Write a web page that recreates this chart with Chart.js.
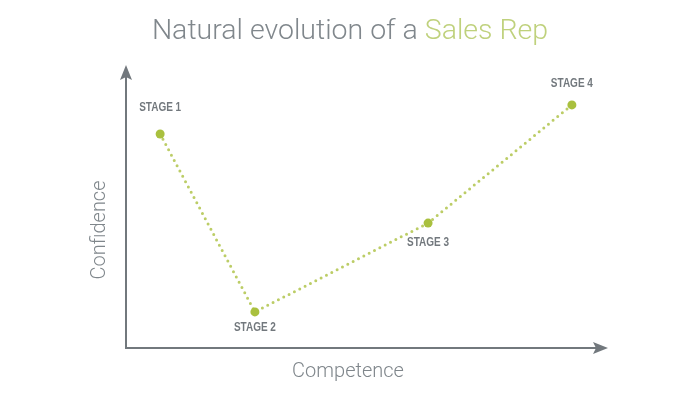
<!DOCTYPE html>
<html lang="en">
<head>
  <meta charset="UTF-8" />
  <title>Natural evolution of a Sales Rep</title>
  <script src="https://cdn.jsdelivr.net/npm/chart.js"></script>
  <style>
    html, body { margin: 0; padding: 0; background: #fff; }
    #wrap { position: relative; width: 700px; height: 394px; }
    #title {
      position: absolute; left: 0; top: 13px; width: 700px; text-align: center;
      font-family: Roboto, "Liberation Sans", sans-serif; font-weight: 300;
      font-size: 28.5px; color: #80878c; white-space: nowrap;
    }
    #title span { color: #bfd17c; }
  </style>
</head>
<body>
<div id="wrap">
  <div id="title">Natural evolution of a <span>Sales Rep</span></div>
  <canvas id="evoChart" width="700" height="394"></canvas>
</div>

<script>
// stages along the curve
const stages = ['STAGE 1', 'STAGE 2', 'STAGE 3', 'STAGE 4'];
const competence = [7.1, 26.8, 62.8, 92.7];
const confidence = [75.9, 12.8, 44.3, 86.2];

// vertical offset of each stage label from its point (px)
const labelOffset = [-26, 16, 19, -21];

const axisColor = '#72787d';
const textColor = '#7f868b';

const axesPlugin = {
  id: 'axesPlugin',
  afterDraw(chart) {
    const ctx = chart.ctx;
    const a = chart.chartArea;
    ctx.save();
    ctx.strokeStyle = axisColor;
    ctx.fillStyle = axisColor;
    ctx.lineWidth = 2;
    // axis lines
    ctx.beginPath();
    ctx.moveTo(a.left, a.top + 10);
    ctx.lineTo(a.left, a.bottom);
    ctx.lineTo(a.right - 10, a.bottom);
    ctx.stroke();
    // arrow heads
    ctx.beginPath();
    ctx.moveTo(a.left, a.top - 1);
    ctx.lineTo(a.left + 6, a.top + 14);
    ctx.lineTo(a.left, a.top + 11);
    ctx.lineTo(a.left - 6, a.top + 14);
    ctx.closePath();
    ctx.fill();
    ctx.beginPath();
    ctx.moveTo(a.right + 1, a.bottom);
    ctx.lineTo(a.right - 14, a.bottom - 6);
    ctx.lineTo(a.right - 11, a.bottom);
    ctx.lineTo(a.right - 14, a.bottom + 6);
    ctx.closePath();
    ctx.fill();

    // axis titles
    ctx.fillStyle = textColor;
    ctx.font = '300 20px Roboto, "Liberation Sans", sans-serif';
    ctx.textAlign = 'center';
    ctx.textBaseline = 'middle';
    ctx.fillText('Competence', 348, 372);
    ctx.save();
    ctx.translate(100, 230);
    ctx.rotate(-Math.PI / 2);
    ctx.fillText('Confidence', 0, 0);
    ctx.restore();

    // stage labels, squeezed to look condensed
    ctx.fillStyle = axisColor;
    ctx.font = 'bold 12.5px "Liberation Sans", Arial, sans-serif';
    const pts = chart.getDatasetMeta(0).data;
    pts.forEach((p, i) => {
      ctx.save();
      ctx.translate(p.x, p.y + labelOffset[i]);
      ctx.scale(0.8, 1);
      ctx.fillText(stages[i], 0, 0);
      ctx.restore();
    });
    ctx.restore();
  }
};

const chart = new Chart(document.getElementById('evoChart'), {
  type: 'line',
  data: {
    datasets: [{
      data: competence.map((c, i) => ({ x: c, y: confidence[i] })),
      borderColor: '#bccd66',
      borderWidth: 3,
      borderDash: [0, 6],
      borderCapStyle: 'round',
      tension: 0,
      pointRadius: 4.5,
      pointBackgroundColor: '#a9c03e',
      pointBorderWidth: 0,
      clip: false
    }]
  },
  options: {
    responsive: false,
    animation: false,
    layout: { padding: { left: 126, right: 93, top: 66, bottom: 46 } },
    scales: {
      x: { type: 'linear', min: 0, max: 100, display: false },
      y: { type: 'linear', min: 0, max: 100, display: false }
    },
    plugins: {
      legend: { display: false },
      tooltip: { enabled: false }
    }
  },
  plugins: [axesPlugin]
});
</script>
</body>
</html>
